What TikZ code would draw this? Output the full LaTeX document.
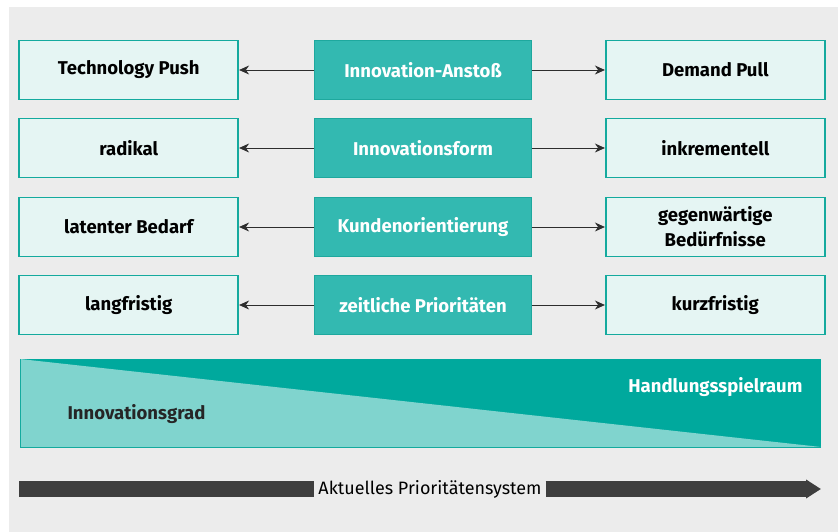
\documentclass[tikz,border=0pt]{standalone}
\usepackage{fontspec}
\setmainfont{Fira Sans}
\usetikzlibrary{positioning,arrows.meta}
\definecolor{bggray}{RGB}{236,236,236}
\definecolor{boxfill}{RGB}{229,245,243}
\definecolor{tealline}{RGB}{20,170,158}
\definecolor{midfill}{RGB}{51,185,177}
\definecolor{midline}{RGB}{30,168,158}
\definecolor{banddark}{RGB}{0,169,157}
\definecolor{bandlight}{RGB}{128,212,206}
\definecolor{bargray}{RGB}{62,62,62}
\definecolor{linkgray}{RGB}{45,45,45}

\begin{document}
\begin{tikzpicture}[
    x=1bp, y=-1bp,
    box/.style={rectangle, minimum height=59bp, align=center, font=\fontsize{18.6}{25}\selectfont\bfseries},
    side/.style={box, fill=boxfill, draw=tealline, line width=1.8bp, minimum width=219bp},
    mid/.style={box, fill=midfill, draw=midline, line width=0.8bp, minimum width=217bp, text=white},
    link/.style={draw=linkgray, line width=0.8bp, -{Stealth[length=10bp,width=9bp]}},
    bar/.style={draw=bargray, line width=16bp}
]
    \useasboundingbox (0,0) rectangle (838,532);
    \fill[bggray] (9,7) rectangle (838,532);

    % Innovation-Anstoss
    \node[mid] (anstoss) at (423,70) {Innovation-Anstoß};
    \node[side, left=75bp of anstoss] (push) {Technology Push};
    \node[side, right=73bp of anstoss] (pull) {Demand Pull};
    \draw[link] (anstoss) -- (push);
    \draw[link] (anstoss) -- (pull);

    % Innovationsform
    \node[mid] (form) at (423,148) {Innovationsform};
    \node[side, left=75bp of form] (radikal) {radikal};
    \node[side, right=73bp of form] (inkr) {inkrementell};
    \draw[link] (form) -- (radikal);
    \draw[link] (form) -- (inkr);

    % Kundenorientierung
    \node[mid] (kunden) at (423,227) {Kundenorientierung};
    \node[side, left=75bp of kunden] (latent) {latenter Bedarf};
    \node[side, right=73bp of kunden] (gegenw) {gegenwärtige\\Bedürfnisse};
    \draw[link] (kunden) -- (latent);
    \draw[link] (kunden) -- (gegenw);

    % zeitliche Prioritaeten
    \node[mid] (zeit) at (423,305) {zeitliche Prioritäten};
    \node[side, left=75bp of zeit] (lang) {langfristig};
    \node[side, right=73bp of zeit] (kurz) {kurzfristig};
    \draw[link] (zeit) -- (lang);
    \draw[link] (zeit) -- (kurz);

    % Band: Innovationsgrad vs. Handlungsspielraum
    \fill[banddark] (20,359) rectangle (821,447);
    \fill[bandlight] (20,359) -- (821,447) -- (20,447) -- cycle;
    \draw[tealline, line width=0.8bp] (20,359) -- (20,447) -- (821,447);
    \node[anchor=west, font=\fontsize{18.6}{22}\selectfont\bfseries, text=black!85] (grad) at (64,414) {Innovationsgrad};
    \node[anchor=east, font=\fontsize{18.6}{22}\selectfont\bfseries, text=white] (raum) at (806,387) {Handlungsspielraum};

    % Prioritaetensystem
    \node[font=\fontsize{18}{21}\selectfont, inner sep=4bp] (prio) at (430,489) {Aktuelles Prioritätensystem};
    \coordinate (barstart) at (19,489);
    \coordinate (barend) at (821,489);
    \draw[bar] (barstart) -- (prio.west);
    \draw[bar, -{Triangle[length=15bp,width=18bp]}] (prio.east) -- (barend);
\end{tikzpicture}
\end{document}
